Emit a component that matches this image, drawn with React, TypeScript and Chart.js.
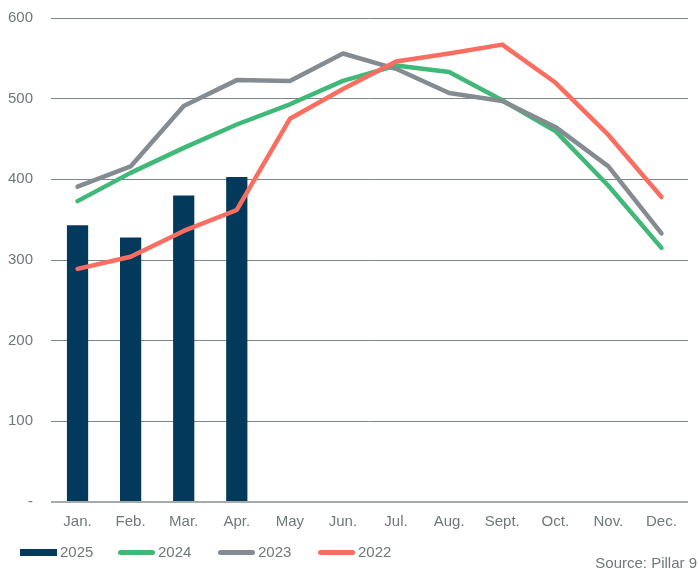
import React, { useEffect, useRef } from "react";
import { Chart, registerables } from "chart.js";

Chart.register(...registerables);

const months = ["Jan.", "Feb.", "Mar.", "Apr.", "May", "Jun.", "Jul.", "Aug.", "Sept.", "Oct.", "Nov.", "Dec."];
const s2025 = [343, 328, 380, 403, null, null, null, null, null, null, null, null];
const s2024 = [373, 408, 439, 468, 493, 522, 541, 533, 498, 460, 392, 315];
const s2023 = [391, 416, 491, 523, 522, 556, 537, 507, 497, 465, 416, 333];
const s2022 = [289, 304, 336, 362, 475, 512, 546, 556, 567, 520, 455, 378];

const C2025 = "#033a5c";
const C2024 = "#3fb878";
const C2023 = "#848c92";
const C2022 = "#f96e60";
const TXT = "#6e7979";
const FONT = "'Liberation Sans', Arial, sans-serif";
const FS = 15;
const LW = 4.5;

export default function App() {
  const ref = useRef<HTMLCanvasElement>(null);
  useEffect(() => {
    document.body.style.margin = "0";
    const ctx = ref.current!;
    const chart = new Chart(ctx, {
      type: "bar",
      data: {
        labels: months,
        datasets: [
          { type: "bar", label: "2025", data: s2025 as any, backgroundColor: C2025, barPercentage: 0.8, categoryPercentage: 0.5, order: 4 },
          { type: "line", label: "2024", data: s2024, borderColor: C2024, backgroundColor: C2024, borderWidth: LW, pointRadius: 0, tension: 0, borderCapStyle: "round", borderJoinStyle: "round", order: 3 },
          { type: "line", label: "2023", data: s2023, borderColor: C2023, backgroundColor: C2023, borderWidth: LW, pointRadius: 0, tension: 0, borderCapStyle: "round", borderJoinStyle: "round", order: 2 },
          { type: "line", label: "2022", data: s2022, borderColor: C2022, backgroundColor: C2022, borderWidth: LW, pointRadius: 0, tension: 0, borderCapStyle: "round", borderJoinStyle: "round", order: 1 },
        ] as any,
      },
      options: {
        animation: false,
        responsive: false,
        layout: { padding: { left: 0, right: 10, top: 18, bottom: 0 } },
        plugins: { legend: { display: false }, tooltip: { enabled: false } },
        scales: {
          x: {
            grid: { display: false, drawTicks: false },
            border: { display: false },
            ticks: { color: TXT, font: { family: FONT, size: FS }, padding: 11, maxRotation: 0 },
            afterFit: (s: any) => { s.height = 67; s.paddingLeft = 0; s.paddingRight = 0; },
          },
          y: {
            min: 0,
            max: 600,
            border: { display: false },
            grid: {
              drawTicks: false,
              color: (c: any) => (c.tick && c.tick.value === 0 ? "#a3abab" : "#7a8787"),
              lineWidth: (c: any) => (c.tick && c.tick.value === 0 ? 2 : 1),
            },
            ticks: {
              stepSize: 100,
              color: TXT,
              font: { family: FONT, size: FS },
              padding: 18,
              callback: (v: any) => (v === 0 ? "-" : String(v)),
            },
            afterFit: (s: any) => { s.width = 51; s.paddingTop = 0; s.paddingBottom = 0; },
          },
        },
      },
    });
    return () => chart.destroy();
  }, []);

  const item = (label: string, color: string, bar: boolean, left: number) => (
    <div key={label} style={{ position: "absolute", left, top: 543, height: 18, display: "flex", alignItems: "center" }}>
      <div style={{ width: 37, height: bar ? 7 : 5, background: color, borderRadius: bar ? 0 : 3 }} />
      <span style={{ marginLeft: 3, fontFamily: FONT, fontSize: FS, color: TXT, lineHeight: "18px" }}>{label}</span>
    </div>
  );

  return (
    <div style={{ position: "relative", width: 698, height: 569 }}>
      <canvas ref={ref} width={698} height={569} style={{ display: "block" }} />
      {item("2025", C2025, true, 20)}
      {item("2024", C2024, false, 118)}
      {item("2023", C2023, false, 218)}
      {item("2022", C2022, false, 318)}
      <div style={{ position: "absolute", right: 1, top: 554, fontFamily: FONT, fontSize: FS, color: TXT, lineHeight: "18px" }}>Source: Pillar 9</div>
    </div>
  );
}
